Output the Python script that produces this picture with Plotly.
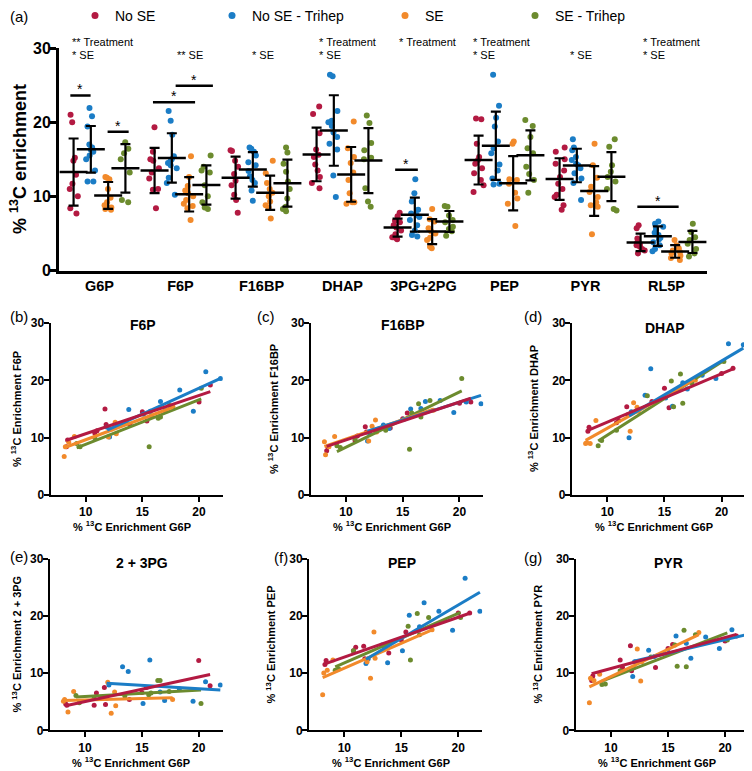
import numpy as np
import plotly.graph_objects as go

# the page adds an 8 px body margin, so the figure is drawn 8 px in and reduced by 8 px
OFF = 8
W, H = 752 - OFF, 771 - OFF
FONT = "Arial, 'Liberation Sans', sans-serif"

metabolites = ["G6P", "F6P", "F16BP", "DHAP", "3PG+2PG", "PEP", "PYR", "RL5P"]
groups = ["No SE", "No SE - Trihep", "SE", "SE - Trihep"]
colors = ["#B31A42", "#1B7DC6", "#F28A2B", "#6C8B2E"]

# ---------- Panel (a): % 13C enrichment, lists per group [No SE, No SE-Trihep, SE, SE-Trihep]
a_G6P = [[21.0, 20.0, 15.2, 14.8, 12.9, 11.7, 11.0, 10.0, 8.4, 7.7],
         [21.9, 20.8, 19.4, 17.0, 16.6, 16.3, 16.0, 15.5, 15.0, 13.5, 12.0, 12.0],
         [12.6, 12.5, 12.3, 11.0, 9.8, 9.2, 8.8, 8.5, 8.3, 8.2],
         [17.3, 16.4, 15.8, 15.0, 13.2, 9.5, 9.2]]
a_F6P = [[19.3, 16.0, 15.0, 14.8, 13.8, 13.2, 12.4, 11.0, 10.9, 8.4],
         [21.5, 20.2, 18.3, 15.4, 15.0, 14.7, 14.5, 14.2, 13.8, 12.5, 11.8, 10.2],
         [15.4, 12.6, 11.4, 10.8, 10.4, 10.0, 9.5, 9.0, 8.7, 8.4, 6.8],
         [15.5, 14.0, 13.5, 13.2, 11.5, 10.0, 9.2, 8.5, 8.3]]
a_F16BP = [[16.2, 16.1, 14.8, 14.0, 13.0, 12.1, 11.5, 10.2, 9.5, 7.8],
           [16.6, 16.4, 16.0, 15.5, 14.6, 14.2, 13.4, 12.7, 12.2, 11.8, 10.8, 9.4],
           [14.8, 13.1, 11.8, 11.0, 10.5, 10.0, 9.3, 8.8, 8.5, 7.0],
           [16.6, 15.9, 14.4, 13.3, 12.0, 11.0, 9.7, 8.6, 8.3, 8.0]]
a_DHAP = [[22.1, 21.1, 18.5, 16.3, 15.6, 15.3, 14.3, 13.5, 12.6, 11.8, 11.1],
          [26.4, 26.2, 21.5, 20.0, 20.2, 19.5, 18.6, 18.0, 17.1, 16.3, 12.8, 9.9],
          [20.1, 16.5, 15.3, 14.5, 13.2, 12.2, 10.4, 9.2, 9.2, 9.0],
          [20.9, 19.9, 17.2, 16.2, 15.2, 15.0, 11.1, 9.3, 8.6]]
a_PG = [[7.8, 7.3, 6.7, 6.5, 6.1, 5.8, 5.4, 4.9, 4.5, 4.4, 4.2],
        [12.3, 10.4, 9.3, 8.2, 7.7, 7.5, 7.2, 6.8, 6.1, 5.4, 4.8, 4.6],
        [8.3, 6.9, 6.6, 5.7, 5.3, 5.0, 4.4, 4.1, 3.2, 3.0],
        [8.7, 8.6, 7.4, 6.8, 6.5, 5.6, 5.9, 5.3, 4.7]]
a_PEP = [[20.5, 20.4, 17.1, 15.3, 14.9, 14.4, 13.8, 13.1, 12.2, 11.5, 10.6],
         [26.4, 22.2, 20.6, 19.4, 17.4, 16.5, 15.8, 14.3, 13.5, 12.4, 11.7, 11.6],
         [17.4, 17.1, 12.3, 12.2, 11.7, 10.5, 9.7, 9.0, 6.0],
         [20.3, 19.5, 18.0, 16.5, 15.8, 14.0, 13.0, 12.2, 10.5]]
a_PYR = [[16.6, 16.0, 15.0, 14.4, 13.5, 12.6, 11.7, 11.0, 10.2, 9.9, 8.8, 8.2],
         [17.7, 16.6, 16.2, 15.3, 14.9, 14.4, 14.2, 13.8, 13.1, 12.4, 11.8, 9.5],
         [17.1, 14.2, 12.5, 11.3, 10.6, 9.9, 9.2, 8.8, 8.6, 4.9],
         [17.7, 16.7, 14.2, 13.3, 12.6, 12.0, 11.0, 8.3, 8.1]]
a_RL5P = [[6.1, 5.7, 4.3, 3.9, 3.7, 3.5, 3.4, 3.2, 2.9, 2.7, 2.3],
          [6.6, 6.3, 5.9, 5.6, 5.1, 4.8, 4.4, 4.2, 3.8, 3.4, 2.9, 2.6],
          [4.1, 3.4, 3.0, 2.7, 2.5, 2.3, 2.0, 1.7, 1.4],
          [6.3, 5.2, 4.5, 4.1, 3.6, 2.9, 2.3, 1.9]]
panel_a = [a_G6P, a_F6P, a_F16BP, a_DHAP, a_PG, a_PEP, a_PYR, a_RL5P]

# significance bars (x in category units) and effect labels
sig_x0 = [-0.36, 0.10, 0.66, 0.94, 3.65, 6.64]
sig_x1 = [-0.11, 0.36, 1.18, 1.40, 3.93, 7.15]
sig_y = [23.6, 18.7, 22.7, 24.9, 13.6, 8.6]
effect_x = [-0.36, 0.93, 1.86, 2.69, 3.67, 4.59, 5.79, 6.68]
effect_treat = ["** Treatment", "", "", "* Treatment", "* Treatment", "* Treatment", "", "* Treatment"]
effect_se = ["* SE", "** SE", "* SE", "* SE", "", "* SE", "* SE", "* SE"]

# ---------- Scatter panels: G6P (x) vs metabolite (y), per group
sc_G6P = [[8.3, 8.4, 10.8, 11.0, 11.7, 11.8, 13.9, 15.0, 15.4, 20.0, 21.0],
          [11.9, 12.1, 13.3, 13.8, 15.1, 15.7, 16.6, 17.0, 18.3, 19.5, 20.6, 21.9],
          [8.1, 8.2, 8.5, 9.0, 12.0, 12.3, 12.6, 12.7, 17.7],
          [9.2, 9.5, 10.8, 13.5, 15.6, 15.8, 16.4, 16.6, 17.4, 20.2]]
sc_F6P = [[8.4, 9.6, 10.8, 11.2, 15.0, 12.3, 12.3, 14.5, 12.9, 16.2, 19.2],
          [11.8, 10.1, 12.5, 14.9, 14.1, 14.6, 16.3, 14.7, 18.3, 14.6, 21.5, 20.3],
          [6.7, 8.4, 9.2, 10.2, 10.1, 11.5, 12.7, 10.7, 15.4],
          [9.0, 8.4, 10.0, 12.6, 8.4, 13.8, 13.4, 13.6, 15.6, 18.6]]
sc_F16BP = [[7.7, 8.4, 9.5, 10.3, 11.9, 11.0, 11.7, 13.3, 14.3, 16.0, 16.2],
            [9.4, 10.7, 12.2, 11.6, 13.2, 15.0, 15.1, 16.3, 16.5, 14.4, 16.2, 15.9],
            [9.3, 7.0, 8.4, 10.2, 9.4, 12.0, 13.1, 11.0, 14.8],
            [8.6, 8.3, 9.8, 11.3, 8.0, 14.3, 15.9, 13.6, 16.5, 20.3]]
sc_DHAP = [[11.1, 11.8, 12.6, 13.0, 15.4, 14.0, 16.3, 18.6, 15.2, 21.2, 22.1],
           [10.0, 14.5, 17.4, 22.0, 16.9, 15.5, 19.6, 18.5, 20.9, 20.3, 26.4, 26.2],
           [9.0, 9.1, 9.0, 13.0, 11.1, 16.1, 15.3, 14.6, 20.0],
           [8.6, 9.5, 11.3, 17.3, 19.9, 15.4, 21.1, 16.0, 19.5, 23.3]]
sc_PG = [[4.6, 4.4, 4.4, 6.5, 7.5, 4.5, 5.4, 6.6, 7.5, 12.2, 7.8],
         [5.6, 7.9, 11.1, 10.3, 4.7, 12.3, 6.7, 5.2, 7.2, 5.1, 8.5, 7.9],
         [5.1, 5.4, 3.2, 6.8, 8.4, 3.0, 6.7, 4.3, 5.4],
         [6.1, 4.8, 5.6, 6.0, 6.2, 6.5, 8.7, 8.7, 6.8, 4.7]]
sc_PEP = [[11.5, 12.2, 13.9, 14.5, 14.7, 12.5, 13.5, 15.8, 17.2, 20.5, 20.5],
          [11.7, 12.5, 14.9, 11.8, 13.9, 20.1, 18.1, 22.3, 20.8, 17.5, 26.6, 20.8],
          [6.2, 10.0, 10.5, 12.3, 12.0, 9.1, 17.2, 12.6, 17.6],
          [10.5, 10.7, 13.9, 14.7, 18.2, 12.3, 20.4, 16.7, 19.7, 19.7]]
sc_PYR = [[8.7, 9.5, 12.3, 11.0, 14.8, 10.4, 11.0, 14.3, 15.0, 15.6, 16.5],
          [9.4, 12.0, 14.0, 12.9, 13.5, 16.5, 15.2, 12.6, 16.3, 14.3, 17.6, 14.9],
          [4.8, 9.1, 8.7, 9.8, 11.0, 14.2, 8.6, 12.0, 17.1],
          [8.0, 8.1, 10.4, 12.8, 14.9, 11.2, 17.5, 11.1, 16.7, 15.8]]
sc_titles = ["F6P", "F16BP", "DHAP", "2 + 3PG", "PEP", "PYR"]
sc_labels = ["(b)", "(c)", "(d)", "(e)", "(f)", "(g)"]
sc_data = [sc_F6P, sc_F16BP, sc_DHAP, sc_PG, sc_PEP, sc_PYR]


def px(x):
    return (x - OFF) / W


def py(y):
    return 1 - (y - OFF) / H


# panel (a) geometry in screen pixels
A_L, A_R, A_B, A_T = 59, 707, 270.5, 48
A_XR, A_YR = (-0.5, 7.5), (0, 30)


def a_xpaper(v):
    return px(A_L) + (v - A_XR[0]) / (A_XR[1] - A_XR[0]) * (px(A_R) - px(A_L))


def a_ypaper(v):
    return py(A_B) + (v - A_YR[0]) / (A_YR[1] - A_YR[0]) * (py(A_T) - py(A_B))


offsets = [-0.32, -0.107, 0.107, 0.32]

fig = go.Figure()

# panel (a) dots
for gi in range(4):
    xs, ys = [], []
    for mi, vals in enumerate(panel_a):
        for v in vals[gi]:
            xs.append(mi + offsets[gi])
            ys.append(v)
    fig.add_trace(go.Box(x=xs, y=ys, boxpoints="all", jitter=0.8, pointpos=0, width=0.17,
                         fillcolor="rgba(0,0,0,0)", line=dict(width=0, color="rgba(0,0,0,0)"),
                         marker=dict(color=colors[gi], size=6), showlegend=False,
                         hoverinfo="skip", xaxis="x", yaxis="y"))

# mean +- SD
for gi in range(4):
    mx = [mi + offsets[gi] for mi in range(len(panel_a))]
    means = [float(np.mean(v[gi])) for v in panel_a]
    sds = [float(np.std(v[gi], ddof=1)) for v in panel_a]
    fig.add_trace(go.Scatter(x=mx, y=means, mode="markers",
                             marker=dict(symbol="line-ew", size=20, color="black",
                                         line=dict(width=2.5, color="black")),
                             error_y=dict(type="data", array=sds, color="black", thickness=2.2, width=5),
                             showlegend=False, hoverinfo="skip", xaxis="x", yaxis="y"))

# legend entries, one legend box per group so each sits where the reference has it
legend_names = ["legend", "legend2", "legend3", "legend4"]
legend_dot_x = [95, 232, 405, 535]
for gi in range(4):
    fig.add_trace(go.Scatter(x=[None], y=[None], mode="markers", name=groups[gi],
                             marker=dict(color=colors[gi], size=7), xaxis="x", yaxis="y",
                             legend=legend_names[gi]))

annotations = []
shapes = []

for x0, x1, y in zip(sig_x0, sig_x1, sig_y):
    shapes.append(dict(type="line", xref="x", yref="y", x0=x0, x1=x1, y0=y, y1=y,
                       line=dict(color="black", width=2.5)))
    annotations.append(dict(xref="x", yref="y", x=(x0 + x1) / 2, y=y, text="*", showarrow=False,
                            yanchor="bottom", yshift=-4, font=dict(size=14, color="black", family=FONT)))

for x, t1, t2 in zip(effect_x, effect_treat, effect_se):
    if t1:
        annotations.append(dict(xref="paper", yref="paper", x=a_xpaper(x), y=a_ypaper(30.8), text=t1,
                                showarrow=False, xanchor="left", yanchor="middle",
                                font=dict(size=11, color="black", family=FONT)))
    if t2:
        annotations.append(dict(xref="paper", yref="paper", x=a_xpaper(x), y=a_ypaper(29.0), text=t2,
                                showarrow=False, xanchor="left", yanchor="middle",
                                font=dict(size=11, color="black", family=FONT)))

annotations.append(dict(xref="paper", yref="paper", x=px(18), y=py(159), text="<b>% <sup>13</sup>C enrichment</b>",
                        textangle=-90, showarrow=False, xanchor="center", yanchor="middle",
                        font=dict(size=18, color="black", family=FONT)))
annotations.append(dict(xref="paper", yref="paper", x=px(8), y=py(17), text="(a)", showarrow=False,
                        xanchor="left", yanchor="middle", font=dict(size=15, color="black", family=FONT)))

layout_axes = {}
layout_axes["xaxis"] = dict(domain=[px(A_L), px(A_R)], range=list(A_XR), tickvals=list(range(8)),
                            ticktext=metabolites, showline=True, linewidth=3, linecolor="black",
                            ticks="", showgrid=False, zeroline=False, anchor="y",
                            tickfont=dict(size=14.5, color="black", family=FONT, weight="bold"))
layout_axes["yaxis"] = dict(domain=[py(A_B), py(A_T)], range=list(A_YR), tickvals=[0, 10, 20, 30],
                            showline=True, linewidth=3, linecolor="black", ticks="outside", ticklen=6,
                            tickwidth=3, tickcolor="black", showgrid=False, zeroline=False, anchor="x",
                            ticklabelstandoff=-4,
                            tickfont=dict(size=16, color="black", family=FONT, weight="bold"))

sc_xdom = [(50.6, 222.8), (310.8, 483.3), (571.9, 745.6), (49.8, 222.6), (309.0, 482.2), (575.7, 749.0)]
sc_ydom = [(323, 495), (323, 495), (323, 495), (558.7, 730.3), (558.7, 730.3), (558.7, 730.3)]
title_y = [325, 325, 328, 563, 563, 563]
label_y = [316, 316, 316, 556, 557, 557]
label_x = [8, 255, 522, 8, 272, 522]
ytitle_x = [16, 273, 533, 16, 270, 537]
xtitle_y = [526, 526, 526, 762, 762, 762]

for k in range(6):
    ax = k + 2
    xa, ya = "x%d" % ax, "y%d" % ax
    (x0, x1), (y0, y1) = sc_xdom[k], sc_ydom[k]
    layout_axes["xaxis%d" % ax] = dict(domain=[px(x0), min(px(x1), 1.0)], range=[6.9, 22.1],
                                       tickvals=[10, 15, 20],
                                       showline=True, linewidth=2, linecolor="black", ticks="outside",
                                       ticklen=5, tickwidth=2, tickcolor="black", showgrid=False,
                                       zeroline=False, anchor=ya,
                                       tickfont=dict(size=12, color="black", family=FONT, weight="bold"))
    layout_axes["yaxis%d" % ax] = dict(domain=[py(y1), py(y0)], range=[0, 30], tickvals=[0, 10, 20, 30],
                                       showline=True, linewidth=2, linecolor="black", ticks="outside",
                                       ticklen=5, tickwidth=2, tickcolor="black", showgrid=False,
                                       zeroline=False, anchor=xa, ticklabelstandoff=-3,
                                       tickfont=dict(size=12, color="black", family=FONT, weight="bold"))
    ydata = sc_data[k]
    for gi in range(4):
        fig.add_trace(go.Scatter(x=sc_G6P[gi], y=ydata[gi], mode="markers",
                                 marker=dict(color=colors[gi], size=5), showlegend=False,
                                 hoverinfo="skip", xaxis=xa, yaxis=ya))
    for gi in [3, 2, 1, 0]:
        xs = np.array(sc_G6P[gi])
        slope, icpt = np.polyfit(xs, np.array(ydata[gi]), 1)
        lx = [float(xs.min()), float(xs.max())]
        fig.add_trace(go.Scatter(x=lx, y=[slope * v + icpt for v in lx], mode="lines",
                                 line=dict(color=colors[gi], width=3), showlegend=False,
                                 hoverinfo="skip", xaxis=xa, yaxis=ya))
    cx = (x0 + x1) / 2
    annotations.append(dict(xref="paper", yref="paper", x=px(cx + 6), y=py(title_y[k]),
                            text="<b>" + sc_titles[k] + "</b>", showarrow=False, xanchor="center",
                            yanchor="middle", font=dict(size=14, color="black", family=FONT)))
    annotations.append(dict(xref="paper", yref="paper", x=px(label_x[k]), y=py(label_y[k]),
                            text=sc_labels[k], showarrow=False, xanchor="left", yanchor="middle",
                            font=dict(size=15, color="black", family=FONT)))
    annotations.append(dict(xref="paper", yref="paper", x=px(ytitle_x[k]), y=py((y0 + y1) / 2),
                            text="<b>% <sup>13</sup>C Enrichment " + sc_titles[k] + "</b>", textangle=-90,
                            showarrow=False, xanchor="center", yanchor="middle",
                            font=dict(size=11, color="black", family=FONT)))
    annotations.append(dict(xref="paper", yref="paper", x=px(cx - 5), y=py(xtitle_y[k]),
                            text="<b>% <sup>13</sup>C Enrichment G6P</b>",
                            showarrow=False, xanchor="center", yanchor="middle",
                            font=dict(size=11, color="black", family=FONT)))

legends = {}
for gi in range(4):
    legends[legend_names[gi]] = dict(orientation="h", x=px(legend_dot_x[gi] - 20), y=py(16),
                                     xanchor="left", yanchor="middle",
                                     font=dict(size=14, color="black", family=FONT),
                                     bgcolor="rgba(0,0,0,0)")

fig.update_layout(
    width=W, height=H, margin=dict(l=0, r=0, t=0, b=0, autoexpand=False),
    paper_bgcolor="white", plot_bgcolor="white",
    font=dict(family=FONT, color="black"),
    boxmode="overlay",
    annotations=annotations, shapes=shapes,
    **legends,
    **layout_axes,
)

fig.write_html("out.html")
